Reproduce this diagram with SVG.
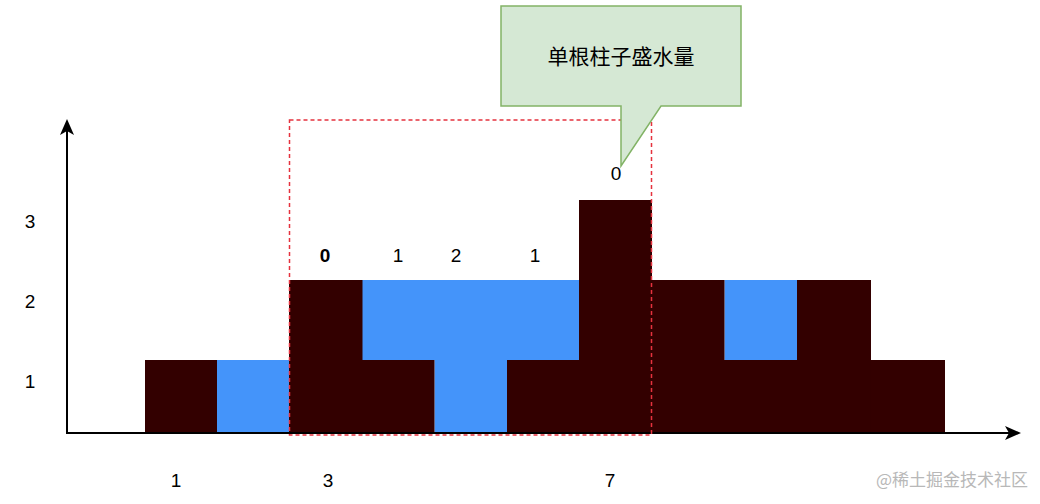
<svg xmlns="http://www.w3.org/2000/svg" width="1040" height="504" viewBox="0 0 1040 504">
<defs>
<style>
.bar{fill:#330000}
.water{fill:#4494fa}
.t{font-family:"Liberation Sans",Arial,sans-serif;font-size:19px;fill:#000;text-anchor:middle}
.axis{stroke:#000;stroke-width:2;fill:none}
</style>
<marker id="arr" markerWidth="16" markerHeight="16" refX="13" refY="8" orient="auto" markerUnits="userSpaceOnUse">
<path d="M0,1 L16,8 L0,15 L4,8 Z" fill="#000"/>
</marker>
</defs>
<rect width="1040" height="504" fill="#fff"/>
<g id="water">
<rect class="water" x="217" y="360" width="72.5" height="72"/>
<rect class="water" x="362" y="280" width="217" height="80"/>
<rect class="water" x="434.5" y="360" width="72.5" height="72"/>
<rect class="water" x="724.5" y="280" width="72.5" height="80"/>
</g>
<g id="bars">
<rect class="bar" x="145" y="360" width="72" height="72"/>
<rect class="bar" x="289" y="280" width="73.5" height="152"/>
<rect class="bar" x="362" y="360" width="72.5" height="72"/>
<rect class="bar" x="507" y="360" width="72.5" height="72"/>
<rect class="bar" x="579" y="200" width="73" height="232"/>
<rect class="bar" x="652" y="280" width="72.5" height="152"/>
<rect class="bar" x="724" y="360" width="73" height="72"/>
<rect class="bar" x="797" y="280" width="74" height="152"/>
<rect class="bar" x="870.5" y="360" width="74.5" height="72"/>
</g>
<g id="connectors">
<line class="axis" x1="67" y1="433" x2="67" y2="122" marker-end="url(#arr)"/>
<line class="axis" x1="66" y1="433" x2="1018" y2="433" marker-end="url(#arr)"/>
</g>
<g id="highlight">
<rect x="289.5" y="120" width="362" height="315" fill="none" stroke="#e5323e" stroke-width="1.5" stroke-dasharray="4,3"/>
</g>
<g id="callout">
<path d="M501,6 H741 V106 H661 L621,166 V106 H501 Z" fill="#d5e8d4" stroke="#82b366" stroke-width="1.5"/>
<text x="621" y="64" font-family="'Noto Sans CJK SC','Liberation Sans',sans-serif" font-size="21" text-anchor="middle" fill="#000">单根柱子盛水量</text>
</g>
<g id="labels">
<text class="t" x="616" y="180">0</text>
<text class="t" x="30" y="228">3</text>
<text class="t" x="30" y="308">2</text>
<text class="t" x="30" y="388">1</text>
<text class="t" x="325" y="262" font-weight="bold">0</text>
<text class="t" x="398" y="262">1</text>
<text class="t" x="456" y="262">2</text>
<text class="t" x="535" y="262">1</text>
<text class="t" x="176" y="487">1</text>
<text class="t" x="328" y="487">3</text>
<text class="t" x="610" y="487">7</text>
<text x="1028" y="486" font-family="'Noto Sans CJK SC','Liberation Sans',sans-serif" font-size="17" fill="#b8b8b8" text-anchor="end">@稀土掘金技术社区</text>
</g>
</svg>
